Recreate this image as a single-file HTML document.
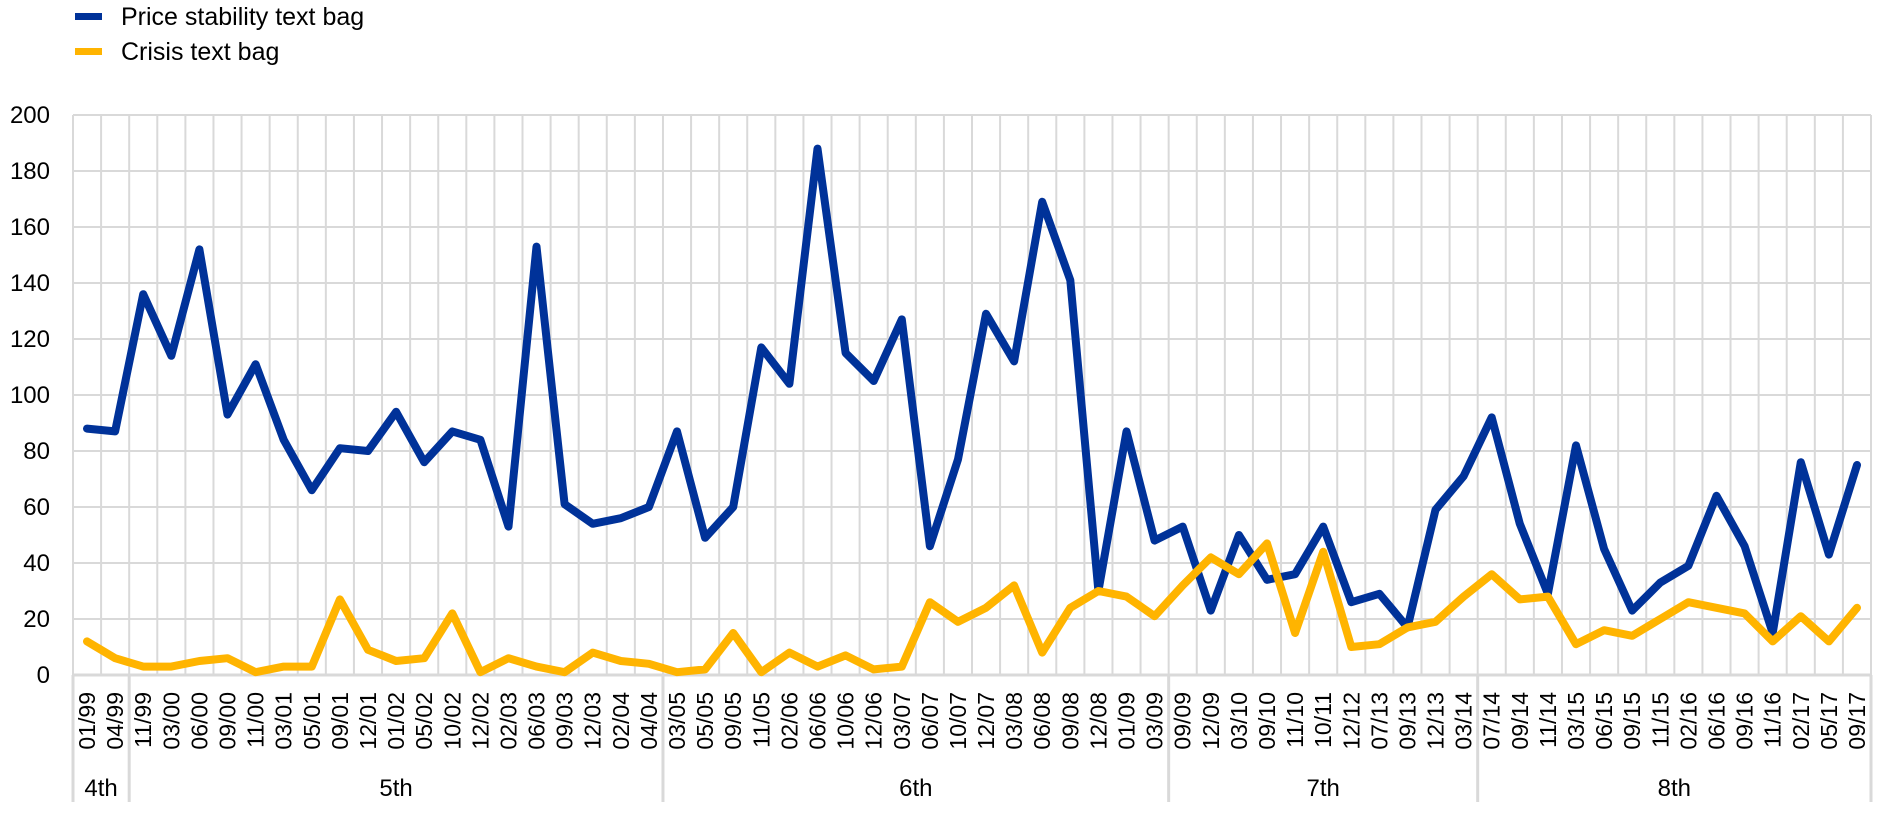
<!DOCTYPE html>
<html><head><meta charset="utf-8"><style>
html,body{margin:0;padding:0;background:#fff;}
svg{display:block;font-family:"Liberation Sans",Arial,sans-serif;}
</style></head><body>
<svg id="chart" width="1890" height="828" viewBox="0 0 1890 828">
<g>
  <g>
    <rect x="75" y="13" width="27" height="7" fill="#003299"/>
    <text x="121" y="25" font-size="25" fill="#000">Price stability text bag</text>
  </g>
  <g>
    <rect x="75" y="48" width="27" height="7" fill="#FFB400"/>
    <text x="121" y="60" font-size="25" fill="#000">Crisis text bag</text>
  </g>
</g>
<g id="grid"></g>
<g id="axes"></g>
<g id="series"></g>
</svg>
<script>
const categories = ["01/99","04/99","11/99","03/00","06/00","09/00","11/00","03/01","05/01","09/01","12/01","01/02","05/02","10/02","12/02","02/03","06/03","09/03","12/03","02/04","04/04","03/05","05/05","09/05","11/05","02/06","06/06","10/06","12/06","03/07","06/07","10/07","12/07","03/08","06/08","09/08","12/08","01/09","03/09","09/09","12/09","03/10","09/10","11/10","10/11","12/12","07/13","09/13","12/13","03/14","07/14","09/14","11/14","03/15","06/15","09/15","11/15","02/16","06/16","09/16","11/16","02/17","05/17","09/17"];
const priceStability = [88,87,136,114,152,93,111,84,66,81,80,94,76,87,84,53,153,61,54,56,60,87,49,60,117,104,188,115,105,127,46,77,129,112,169,141,30,87,48,53,23,50,34,36,53,26,29,17,59,71,92,54,29,82,45,23,33,39,64,46,15,76,43,75];
const crisis = [12,6,3,3,5,6,1,3,3,27,9,5,6,22,1,6,3,1,8,5,4,1,2,15,1,8,3,7,2,3,26,19,24,32,8,24,30,28,21,32,42,36,47,15,44,10,11,17,19,28,36,27,28,11,16,14,20,26,24,22,12,21,12,24];
const yTicks = [0,20,40,60,80,100,120,140,160,180,200];
const groupNames = ["4th","5th","6th","7th","8th"];
const groupSizes = [2,19,18,11,14];

const NS="http://www.w3.org/2000/svg";
const L=73,R=1871,T=115,B=675,YMAX=200;
const n=categories.length, cw=(R-L)/n;
const xPos=i=>L+cw*(i+0.5);
const yPos=v=>B-(v/YMAX)*(B-T);
function mk(tag,attrs,parent){const e=document.createElementNS(NS,tag);for(const k in attrs)e.setAttribute(k,attrs[k]);parent.appendChild(e);return e;}
const grid=document.getElementById('grid'),axes=document.getElementById('axes'),series=document.getElementById('series');

yTicks.forEach(t=>{
  const y=yPos(t);
  if(t>0){const g=mk('line',{x1:L,x2:R,y1:y,y2:y,stroke:'#d9d9d9','stroke-width':2},grid);
  
  }
  const tx=mk('text',{x:50,y:y+8,'text-anchor':'end','font-size':24,fill:'#000'},axes);
  tx.textContent=t;
  
  
});
for(let i=0;i<=n;i++){
  const x=L+cw*i;
  const g=mk('line',{x1:x,x2:x,y1:T,y2:B,stroke:'#d9d9d9','stroke-width':2},grid);
  
  
}
const ax=mk('line',{x1:L,x2:R,y1:B,y2:B,stroke:'#d9d9d9','stroke-width':3},axes);


categories.forEach((c,i)=>{
  const x=xPos(i)+8;
  const tx=mk('text',{x:x,y:692,transform:`rotate(-90 ${x} 692)`,'text-anchor':'end','font-size':23,fill:'#000'},axes);
  tx.textContent=c;
  
  
});
let start=0;
const dv0=mk('line',{x1:L,x2:L,y1:B,y2:802,stroke:'#d9d9d9','stroke-width':3},axes);


groupSizes.forEach((s,gi)=>{
  const end=start+s;
  const xe=L+cw*end;
  const dv=mk('line',{x1:xe,x2:xe,y1:B,y2:802,stroke:'#d9d9d9','stroke-width':3},axes);
  
  
  const tx=mk('text',{x:L+cw*(start+end)/2,y:796,'text-anchor':'middle','font-size':24,fill:'#000'},axes);
  tx.textContent=groupNames[gi];
  
  
  start=end;
});
function drawLine(vals,color,name){
  const p=mk('polyline',{points:vals.map((v,i)=>xPos(i).toFixed(1)+','+yPos(v).toFixed(1)).join(' '),fill:'none',stroke:color,'stroke-width':8,'stroke-linejoin':'round','stroke-linecap':'round'},series);
  
  
}
drawLine(priceStability,'#003299','price-stability-line');
drawLine(crisis,'#FFB400','crisis-line');
</script>
</body></html>
